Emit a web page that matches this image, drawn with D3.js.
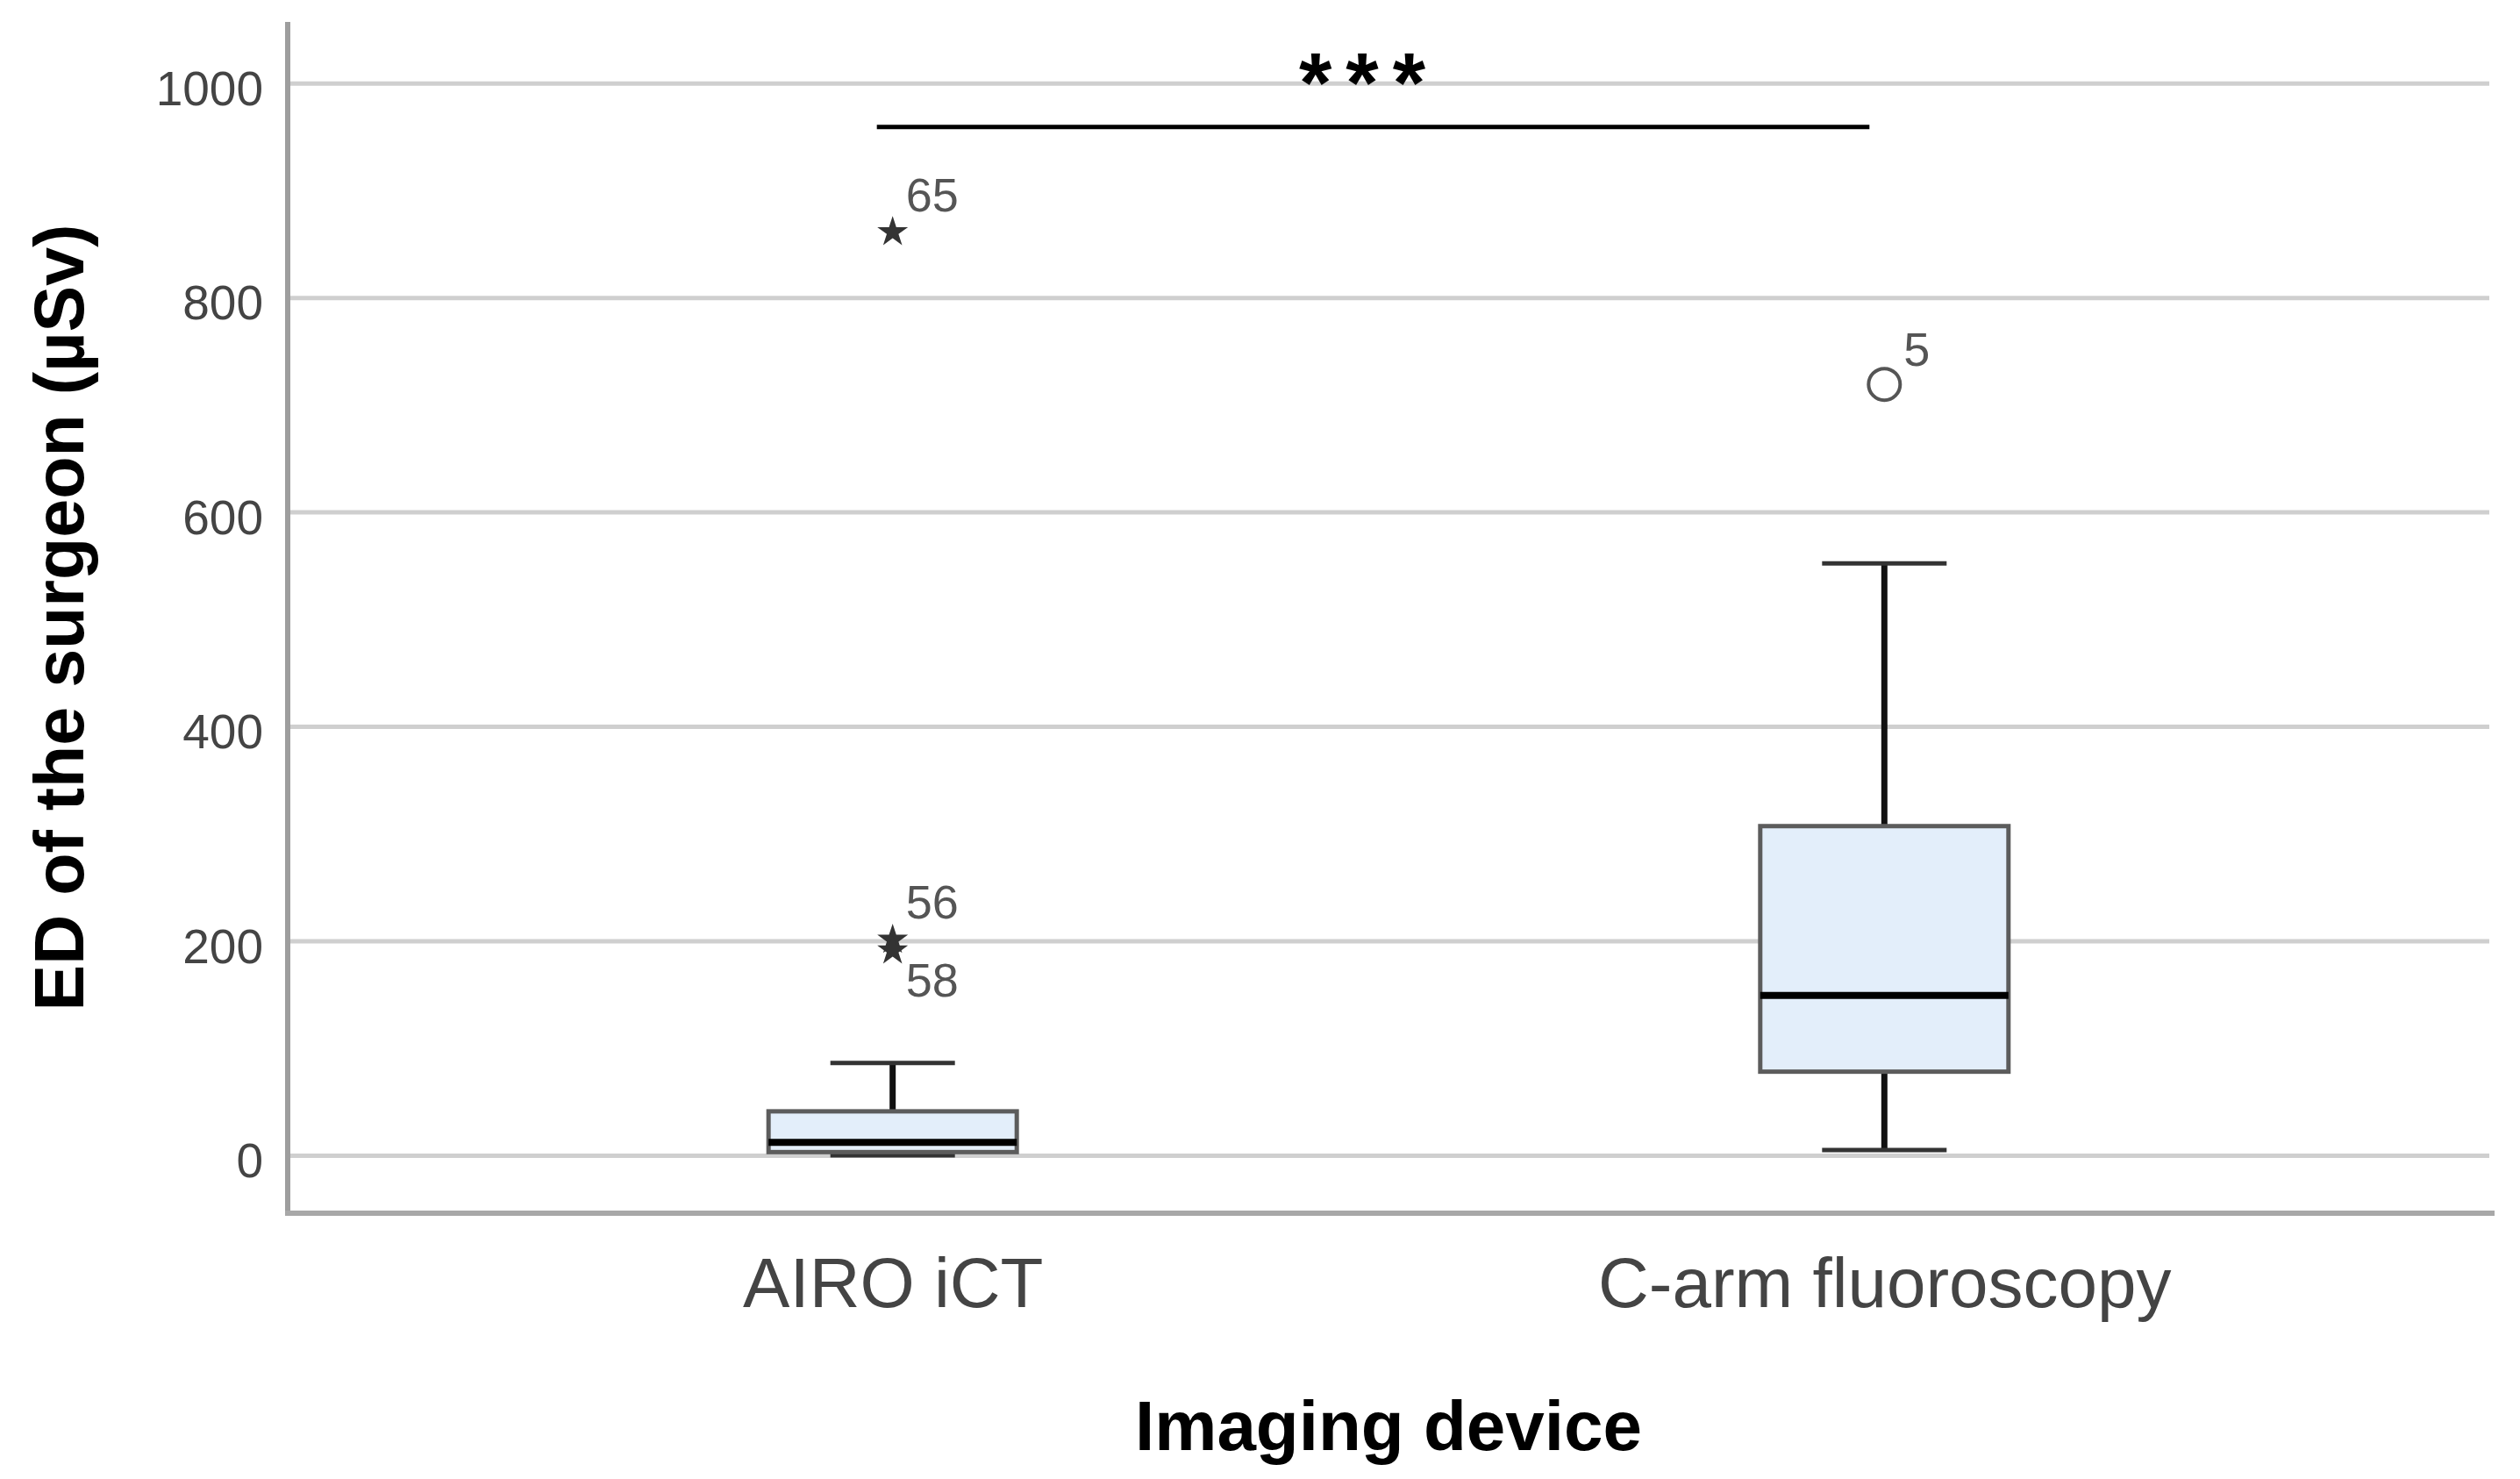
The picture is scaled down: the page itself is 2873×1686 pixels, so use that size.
<!DOCTYPE html>
<html>
<head>
<meta charset="utf-8">
<script src="https://cdn.jsdelivr.net/npm/d3@7"></script>
<style>
  body { margin: 0; background: #fff; }
  text { font-family: "Liberation Sans", Arial, sans-serif; }
</style>
</head>
<body>
<div id="chart"></div>
<script>
// box plot data
const categories = ["AIRO iCT", "C-arm fluoroscopy"];
const whiskerLow = [0, 5];
const q1 = [3, 78];
const median = [12, 149];
const q3 = [41, 307];
const whiskerHigh = [86, 552];

// outliers (case numbers shown next to them)
const outlierCategory = ["AIRO iCT", "AIRO iCT", "AIRO iCT", "C-arm fluoroscopy"];
const outlierValue = [861, 201, 191, 719];
const outlierId = ["65", "56", "58", "5"];
const outlierKind = ["extreme", "extreme", "extreme", "mild"];
const outlierLabelPos = ["above", "above", "below", "above"];

const yTicks = [0, 200, 400, 600, 800, 1000];
const sigPair = ["AIRO iCT", "C-arm fluoroscopy"];
const sigValue = 959;
const sigLabel = "***";

const width = 2873, height = 1686;
const plot = { left: 328, right: 2838, top: 25, bottom: 1383 };

const svg = d3.select("#chart").append("svg")
  .attr("width", width)
  .attr("height", height);

const x = d3.scalePoint().domain(categories).range([plot.left, plot.right]).padding(0.61);
const y = d3.scaleLinear().domain([-54, 1057]).range([plot.bottom, plot.top]);

const boxW = 283, capW = 142;

// gridlines
const grid = svg.append("g")
  .attr("transform", `translate(${plot.left},0)`)
  .call(d3.axisLeft(y).tickValues(yTicks).tickSize(-(plot.right - plot.left)).tickFormat(""));
grid.select(".domain").remove();
grid.selectAll("line").attr("stroke", "#cfcfcf").attr("stroke-width", 5);

// y tick labels
const yAxis = svg.append("g")
  .attr("transform", `translate(${plot.left},0)`)
  .call(d3.axisLeft(y).tickValues(yTicks).tickSize(0).tickPadding(28).tickFormat(d3.format("d")));
yAxis.select(".domain").remove();
yAxis.selectAll("text")
  .attr("font-size", 55)
  .attr("fill", "#444")
  .attr("dy", "0.45em")
  .style("font-family", '"Liberation Sans", Arial, sans-serif');

// x category labels
const xAxis = svg.append("g")
  .attr("transform", `translate(0,${plot.bottom})`)
  .call(d3.axisBottom(x).tickSize(0));
xAxis.select(".domain").remove();
xAxis.selectAll("text")
  .attr("font-size", 80)
  .attr("fill", "#444")
  .attr("y", 107)
  .attr("dy", 0)
  .style("font-family", '"Liberation Sans", Arial, sans-serif');

// axis lines
svg.append("line")
  .attr("x1", plot.left).attr("x2", plot.left)
  .attr("y1", plot.top).attr("y2", plot.bottom)
  .attr("stroke", "#9e9e9e").attr("stroke-width", 6);
svg.append("line")
  .attr("x1", plot.left - 3).attr("x2", plot.right + 6)
  .attr("y1", plot.bottom).attr("y2", plot.bottom)
  .attr("stroke", "#a8a8a8").attr("stroke-width", 6);

// boxes
const boxes = categories.map((c, i) => ({
  cat: c, lo: whiskerLow[i], q1: q1[i], med: median[i], q3: q3[i], hi: whiskerHigh[i]
}));

const g = svg.append("g").selectAll("g").data(boxes).enter().append("g");

// whisker stems
g.append("line")
  .attr("x1", d => x(d.cat)).attr("x2", d => x(d.cat))
  .attr("y1", d => y(d.hi)).attr("y2", d => y(d.q3))
  .attr("stroke", "#111").attr("stroke-width", 7);
g.append("line")
  .attr("x1", d => x(d.cat)).attr("x2", d => x(d.cat))
  .attr("y1", d => y(d.q1)).attr("y2", d => y(d.lo))
  .attr("stroke", "#111").attr("stroke-width", 7);

// whisker caps
g.append("line")
  .attr("x1", d => x(d.cat) - capW / 2).attr("x2", d => x(d.cat) + capW / 2)
  .attr("y1", d => y(d.hi)).attr("y2", d => y(d.hi))
  .attr("stroke", "#333").attr("stroke-width", 5);
g.append("line")
  .attr("x1", d => x(d.cat) - capW / 2).attr("x2", d => x(d.cat) + capW / 2)
  .attr("y1", d => y(d.lo)).attr("y2", d => y(d.lo))
  .attr("stroke", "#333").attr("stroke-width", 5);

// box
g.append("rect")
  .attr("x", d => x(d.cat) - boxW / 2)
  .attr("width", boxW)
  .attr("y", d => y(d.q3))
  .attr("height", d => y(d.q1) - y(d.q3))
  .attr("fill", "#e3eefa")
  .attr("stroke", "#5c5c5c")
  .attr("stroke-width", 5);

// median
g.append("line")
  .attr("x1", d => x(d.cat) - boxW / 2).attr("x2", d => x(d.cat) + boxW / 2)
  .attr("y1", d => y(d.med)).attr("y2", d => y(d.med))
  .attr("stroke", "#000").attr("stroke-width", 8);

// outliers
const outliers = outlierValue.map((v, i) => ({
  cat: outlierCategory[i], v, id: outlierId[i], kind: outlierKind[i], pos: outlierLabelPos[i]
}));

const og = svg.append("g");
og.selectAll("path.star")
  .data(outliers.filter(d => d.kind === "extreme"))
  .enter().append("path")
  .attr("class", "star")
  .attr("transform", d => `translate(${x(d.cat)},${y(d.v)})`)
  .attr("d", d3.symbol().type(d3.symbolStar).size(380))
  .attr("fill", "#333");

og.selectAll("circle")
  .data(outliers.filter(d => d.kind === "mild"))
  .enter().append("circle")
  .attr("cx", d => x(d.cat))
  .attr("cy", d => y(d.v))
  .attr("r", 18)
  .attr("fill", "none")
  .attr("stroke", "#555")
  .attr("stroke-width", 4);

og.selectAll("text")
  .data(outliers)
  .enter().append("text")
  .attr("x", d => x(d.cat) + (d.kind === "mild" ? 22 : 15))
  .attr("y", d => y(d.v) + (d.pos === "below" ? 52 : (d.kind === "mild" ? -21 : -24)))
  .attr("font-size", 54)
  .attr("fill", "#555")
  .text(d => d.id);

// significance bar
svg.append("line")
  .attr("x1", x(sigPair[0]) - 18).attr("x2", x(sigPair[1]) - 17)
  .attr("y1", y(sigValue)).attr("y2", y(sigValue))
  .attr("stroke", "#000").attr("stroke-width", 5);
svg.append("text")
  .attr("x", (x(sigPair[0]) + x(sigPair[1])) / 2 - 22)
  .attr("y", y(sigValue) - 18)
  .attr("text-anchor", "middle")
  .attr("font-size", 96)
  .attr("font-weight", "bold")
  .attr("letter-spacing", 16)
  .attr("fill", "#000")
  .text(sigLabel);

// axis titles
svg.append("text")
  .attr("transform", `translate(95,${(plot.top + plot.bottom) / 2}) rotate(-90)`)
  .attr("text-anchor", "middle")
  .attr("font-size", 79)
  .attr("font-weight", "bold")
  .attr("fill", "#000")
  .text("ED of the surgeon (µSv)");

svg.append("text")
  .attr("x", (plot.left + plot.right) / 2)
  .attr("y", 1653)
  .attr("text-anchor", "middle")
  .attr("font-size", 80)
  .attr("font-weight", "bold")
  .attr("fill", "#000")
  .text("Imaging device");
</script>
</body>
</html>
